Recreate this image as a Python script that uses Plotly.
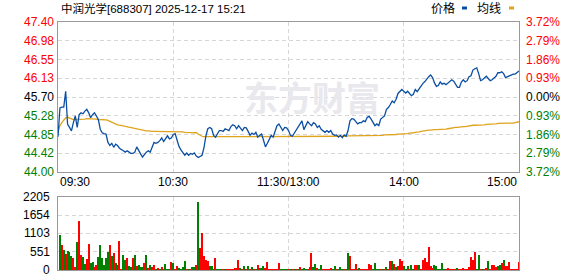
import plotly.graph_objects as go

W, H = 578, 276
ML, MR, MT, MB = 58, 59, 22, 6

title_text = "中润光学[688307] 2025-12-17 15:21"
base_price = 45.70
price_levels = [44.00, 44.425, 44.85, 45.275, 45.70, 46.125, 46.55, 46.975, 47.40]
price_labels = ["44.00", "44.42", "44.85", "45.28", "45.70", "46.13", "46.55", "46.98", "47.40"]
pct_labels = ["3.72%", "2.79%", "1.86%", "0.93%", "0.00%", "0.93%", "1.86%", "2.79%", "3.72%"]
vol_levels = [0, 551, 1103, 1654, 2205]
vol_labels = ["0", "551", "1103", "1654", "2205"]
time_ticks = [0, 60, 120, 180, 240]
time_labels = ["09:30", "10:30", "11:30/13:00", "14:00", "15:00"]

# minute-by-minute price (09:30 .. 15:00, 241 points)
price = [
    44.80, 45.45, 45.47, 45.47, 45.83, 45.08, 45.01, 44.93, 45.12, 45.27,
    45.01, 45.30, 45.34, 45.32, 45.38, 45.42, 45.34, 45.23, 45.30, 45.34,
    45.27, 45.19, 44.97, 44.89, 44.87, 44.86, 44.67, 44.60, 44.65, 44.56,
    44.63, 44.60, 44.54, 44.50, 44.48, 44.45, 44.48, 44.45, 44.42, 44.42,
    44.45, 44.57, 44.48, 44.41, 44.34, 44.41, 44.45, 44.48, 44.45, 44.56,
    44.67, 44.65, 44.67, 44.71, 44.77, 44.69, 44.77, 44.82, 44.75, 44.77,
    44.85, 44.87, 44.72, 44.58, 44.50, 44.43, 44.38, 44.43, 44.38, 44.42,
    44.40, 44.43, 44.36, 44.33, 44.36, 44.38, 44.55, 44.82, 44.98, 45.01,
    44.98, 44.83, 44.79, 44.88, 44.94, 44.94, 44.92, 44.98, 44.95, 44.94,
    45.03, 45.07, 45.05, 44.98, 45.05, 44.98, 44.94, 45.01, 45.00, 44.92,
    44.83, 44.88, 44.85, 44.90, 44.79, 44.83, 44.86, 44.72, 44.57, 44.65,
    44.75, 44.83, 44.79, 44.94, 45.05, 45.09, 45.01, 44.94, 45.01, 45.00,
    44.94, 44.83, 44.81, 44.88, 44.94, 45.00, 45.10, 45.16, 44.96, 45.05,
    45.14, 45.09, 45.05, 45.12, 45.09, 45.01, 45.05, 44.97, 44.94, 44.90,
    44.94, 44.90, 44.94, 44.86, 44.83, 44.84, 44.79, 44.83, 44.78, 44.84,
    44.81, 44.94, 45.16, 45.21, 45.20, 45.14, 45.09, 45.12, 45.12, 45.16,
    45.14, 45.24, 45.26, 45.20, 45.12, 45.05, 45.09, 45.05, 45.20, 45.24,
    45.27, 45.42, 45.46, 45.53, 45.61, 45.57, 45.65, 45.78, 45.83, 45.87,
    45.83, 45.79, 45.83, 45.78, 45.73, 45.76, 45.87, 45.82, 45.89, 45.96,
    46.01, 46.05, 46.11, 46.16, 46.20, 46.14, 46.02, 45.94, 45.96, 46.04,
    45.99, 46.01, 45.98, 46.01, 46.05, 46.09, 46.06, 45.99, 45.92, 45.92,
    46.04, 46.09, 46.04, 46.07, 46.16, 46.18, 46.31, 46.34, 46.36, 46.23,
    46.07, 46.09, 46.14, 46.17, 46.12, 46.07, 46.09, 46.14, 46.17, 46.25,
    46.25, 46.27, 46.23, 46.14, 46.16, 46.18, 46.20, 46.22, 46.22, 46.26,
    46.29,
]

avg_price = [
    44.92, 45.05, 45.12, 45.17, 45.23, 45.24, 45.22, 45.20, 45.19, 45.19,
    45.19, 45.19, 45.20, 45.20, 45.20, 45.21, 45.21, 45.20, 45.20, 45.20,
    45.20, 45.19, 45.19, 45.19, 45.19, 45.18, 45.17, 45.15, 45.12, 45.10,
    45.09, 45.07, 45.06, 45.05, 45.04, 45.03, 45.02, 45.01, 45.00, 44.99,
    44.98, 44.97, 44.96, 44.95, 44.95, 44.94, 44.93, 44.93, 44.92, 44.92,
    44.92, 44.92, 44.92, 44.92, 44.92, 44.92, 44.92, 44.92, 44.92, 44.92,
    44.92, 44.92, 44.91, 44.91, 44.91, 44.91, 44.90, 44.90, 44.90, 44.90,
    44.90, 44.89, 44.89, 44.86, 44.83, 44.81, 44.80, 44.80, 44.80, 44.80,
    44.80, 44.80, 44.80, 44.80, 44.80, 44.80, 44.80, 44.80, 44.80, 44.80,
    44.80, 44.80, 44.80, 44.80, 44.80, 44.80, 44.80, 44.80, 44.80, 44.80,
    44.80, 44.80, 44.80, 44.80, 44.80, 44.80, 44.80, 44.80, 44.80, 44.80,
    44.80, 44.80, 44.80, 44.80, 44.80, 44.80, 44.80, 44.80, 44.80, 44.80,
    44.80, 44.80, 44.80, 44.80, 44.80, 44.80, 44.80, 44.80, 44.80, 44.80,
    44.80, 44.80, 44.80, 44.80, 44.80, 44.81, 44.81, 44.81, 44.81, 44.81,
    44.81, 44.81, 44.81, 44.81, 44.81, 44.81, 44.81, 44.81, 44.81, 44.81,
    44.81, 44.82, 44.82, 44.82, 44.82, 44.82, 44.82, 44.82, 44.82, 44.82,
    44.82, 44.82, 44.83, 44.83, 44.83, 44.83, 44.83, 44.83, 44.83, 44.83,
    44.84, 44.84, 44.84, 44.84, 44.85, 44.85, 44.85, 44.86, 44.86, 44.86,
    44.87, 44.87, 44.87, 44.88, 44.88, 44.89, 44.90, 44.90, 44.91, 44.92,
    44.93, 44.94, 44.94, 44.95, 44.95, 44.96, 44.96, 44.96, 44.96, 44.97,
    44.97, 44.97, 44.97, 44.98, 44.99, 45.00, 45.00, 45.01, 45.01, 45.02,
    45.02, 45.03, 45.03, 45.04, 45.04, 45.05, 45.06, 45.06, 45.06, 45.07,
    45.07, 45.07, 45.07, 45.08, 45.08, 45.08, 45.09, 45.09, 45.09, 45.10,
    45.10, 45.10, 45.10, 45.10, 45.11, 45.11, 45.11, 45.11, 45.12, 45.13,
    45.14,
]

volume = [
    0,
    1060, 755, 600, 485, 565, 545, 425, 370, 100, 845,
    1480, 455, 390, 180, 330, 785, 210, 240, 100, 160,
    390, 755, 360, 150, 360, 545, 755, 425, 515, 210,
    150, 875, 30, 455, 300, 360, 120, 90, 360, 455,
    120, 150, 90, 90, 210, 455, 60, 150, 90, 150,
    30, 60, 30, 90, 30, 180, 30, 30, 240, 210,
    30, 120, 60, 30, 90, 270, 30, 30, 30, 90,
    90, 150, 2050, 660, 1110, 425, 300, 270, 120, 120,
    30, 360, 30, 30, 30, 30, 30, 30, 30, 30,
    30, 60, 60, 300, 60, 30, 120, 30, 120, 30,
    90, 30, 30, 150, 60, 60, 120, 60, 240, 30,
    30, 30, 30, 30, 210, 30, 30, 30, 30, 30,
    30, 30, 30, 30, 30, 90, 30, 60, 30, 30,
    90, 515, 90, 180, 60, 30, 150, 30, 30, 30,
    30, 60, 30, 120, 30, 30, 90, 30, 30, 30,
    515, 425, 30, 30, 180, 30, 60, 30, 30, 30,
    30, 180, 150, 30, 210, 30, 30, 30, 30, 30,
    90, 30, 270, 270, 180, 90, 120, 330, 270, 120,
    30, 120, 30, 150, 30, 150, 150, 150, 30, 300,
    360, 240, 690, 120, 60, 150, 120, 30, 30, 210,
    30, 30, 60, 30, 30, 30, 30, 60, 30, 30,
    60, 30, 30, 90, 390, 300, 545, 30, 455, 30,
    30, 30, 60, 270, 30, 150, 150, 90, 120, 150,
    210, 300, 120, 120, 240, 30, 30, 30, 30, 240,
]

# r = up minute, g = down minute
direction = (
    "r"
    "grgrgggrrg" "rrggrrggrr" "ggggggrgrg" "grrggrggrg" "rgggrgrgrr"
    "grgrggggrg" "rrggggrgrg" "grgrrrrrgg" "grgggrgrrr" "rrrrgrgrgr"
    "grgrgrgrrr" "rrrrrggggr"
    "grgrgrgggr" "rrggrggrrr" "rrggrgggrg" "grrrrggrrr" "rrrggggrgr"
    "grrgrgrrrg" "ggrggrrgrr" "rrrrrggggg" "grrrrrrgrr" "rrrrrrrggr"
    "grrgrrrrgg" "rgrrrrrrrr"
)

minutes = list(range(len(price)))

RED = "#ff0000"
GREEN = "#008000"
BLACK = "#000000"
BLUE = "#0b4fa3"
GOLD = "#e0a31c"
FRAME = "#999999"
GRID = "#d6d6d6"
FONT = "Liberation Sans, Noto Sans CJK SC, sans-serif"

bar_colors = [RED if d == "r" else GREEN for d in direction]

plot_h = H - MT - MB
main_domain = [(H - MB - 172) / plot_h, 1.0]
vol_domain = [0.0, (H - MB - 197) / plot_h]


def px_x(px):
    return (px - ML) / (W - ML - MR)


def px_y(py):
    return (H - MB - py) / plot_h


fig = go.Figure()
fig.add_trace(go.Scatter(x=minutes, y=avg_price, mode="lines",
                         line=dict(color=GOLD, width=1.3), xaxis="x", yaxis="y",
                         hoverinfo="skip"))
fig.add_trace(go.Scatter(x=minutes, y=price, mode="lines",
                         line=dict(color=BLUE, width=1.3), xaxis="x", yaxis="y",
                         hoverinfo="skip"))
fig.add_trace(go.Bar(x=minutes, y=volume, marker=dict(color=bar_colors, line=dict(width=0)),
                     width=0.6, xaxis="x2", yaxis="y2", hoverinfo="skip"))

axis_common = dict(showline=True, mirror=True, linecolor=FRAME, linewidth=1,
                   zeroline=False, ticks="", showticklabels=False,
                   showgrid=True, gridcolor=GRID, griddash="4px,3px", gridwidth=1)

fig.update_layout(
    width=W, height=H,
    margin=dict(l=ML, r=MR, t=MT, b=MB),
    paper_bgcolor="white", plot_bgcolor="white",
    showlegend=False, bargap=0,
    xaxis=dict(domain=[0, 1], anchor="y", range=[0, 240],
               tickvals=time_ticks[1:-1], **axis_common),
    yaxis=dict(domain=main_domain, anchor="x", range=[price_levels[0], price_levels[-1]],
               tickvals=price_levels[1:-1], **axis_common),
    xaxis2=dict(domain=[0, 1], anchor="y2", range=[0, 240],
                tickvals=time_ticks[1:-1], **axis_common),
    yaxis2=dict(domain=vol_domain, anchor="x2", range=[vol_levels[0], vol_levels[-1]],
                tickvals=vol_levels[1:-1], **axis_common),
)

ann = []
# watermark
ann.append(dict(text="<b>东方财富</b>", xref="paper", yref="paper", x=px_x(312), y=px_y(97),
                showarrow=False, font=dict(family="Noto Sans CJK SC", size=34, color="#e8e8ed"),
                xanchor="center", yanchor="middle"))
# title
ann.append(dict(text=title_text, xref="paper", yref="paper", x=px_x(59), y=px_y(9),
                showarrow=False, font=dict(family=FONT, size=11.5, color=BLACK),
                xanchor="left", yanchor="middle"))
# legend
ann.append(dict(text="价格", xref="paper", yref="paper", x=px_x(443), y=px_y(9),
                showarrow=False, font=dict(family=FONT, size=12, color=BLACK),
                xanchor="center", yanchor="middle"))
ann.append(dict(text="均线", xref="paper", yref="paper", x=px_x(489), y=px_y(9),
                showarrow=False, font=dict(family=FONT, size=12, color=BLACK),
                xanchor="center", yanchor="middle"))

# price axis labels (left) and pct labels (right)
for lvl, lab, plab in zip(price_levels, price_labels, pct_labels):
    if lvl > base_price + 1e-9:
        c = RED
    elif lvl < base_price - 1e-9:
        c = GREEN
    else:
        c = BLACK
    ann.append(dict(text=lab, xref="paper", yref="y", x=0, y=lvl, xshift=-2,
                    showarrow=False, font=dict(family=FONT, size=12, color=c),
                    xanchor="right", yanchor="middle"))
    ann.append(dict(text=plab, xref="paper", yref="y", x=1, y=lvl, xshift=5,
                    showarrow=False, font=dict(family=FONT, size=12, color=c),
                    xanchor="left", yanchor="middle"))

# volume labels
for lvl, lab in zip(vol_levels, vol_labels):
    ann.append(dict(text=lab, xref="paper", yref="y2", x=0, y=lvl, xshift=-6,
                    showarrow=False, font=dict(family=FONT, size=12, color=BLACK),
                    xanchor="right", yanchor="middle"))

# time labels
anchors = ["left", "center", "center", "center", "right"]
for t, lab, a in zip(time_ticks, time_labels, anchors):
    ann.append(dict(text=lab, xref="x", yref="paper", x=t, y=px_y(182),
                    showarrow=False, font=dict(family=FONT, size=12, color=BLACK),
                    xanchor=a, yanchor="middle"))

fig.update_layout(annotations=ann)

# legend swatches
fig.add_shape(type="rect", xref="paper", yref="paper",
              x0=px_x(462), x1=px_x(467), y0=px_y(9.5), y1=px_y(6.5),
              fillcolor=BLUE, line=dict(width=0))
fig.add_shape(type="rect", xref="paper", yref="paper",
              x0=px_x(509), x1=px_x(514), y0=px_y(9.5), y1=px_y(6.5),
              fillcolor=GOLD, line=dict(width=0))

fig.write_html("out.html", config={"displayModeBar": False})
